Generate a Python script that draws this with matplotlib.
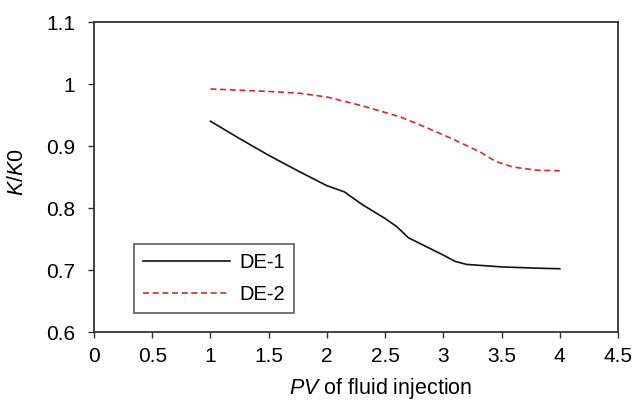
import matplotlib
matplotlib.use('Agg')
import matplotlib.pyplot as plt

plt.rcParams['font.family'] = ['Liberation Sans', 'DejaVu Sans']
plt.rcParams['mathtext.fontset'] = 'custom'
plt.rcParams['mathtext.rm'] = 'Liberation Sans'
plt.rcParams['mathtext.it'] = 'Liberation Sans:italic'

# DE-1 (solid black)
pv1 = [1.0, 1.25, 1.5, 1.75, 2.0, 2.15, 2.3, 2.5, 2.6, 2.7, 2.85, 3.0, 3.1, 3.2, 3.5, 3.8, 4.0]
k1 = [0.940, 0.912, 0.885, 0.860, 0.836, 0.826, 0.806, 0.783, 0.770, 0.752, 0.738, 0.724, 0.714, 0.709, 0.705, 0.703, 0.702]

# DE-2 (dashed red)
pv2 = [1.0, 1.25, 1.5, 1.77, 2.0, 2.3, 2.63, 2.85, 3.06, 3.32, 3.45, 3.6, 3.8, 4.0]
k2 = [0.992, 0.990, 0.988, 0.985, 0.979, 0.965, 0.947, 0.930, 0.913, 0.890, 0.875, 0.866, 0.861, 0.860]

fig = plt.figure(figsize=(6.36, 4.0), dpi=100)
ax = fig.add_axes([94/636, 1-332/400, (618-94)/636, (332-22)/400])

ax.plot(pv1, k1, color='#111111', lw=1.2, label='DE-1')
ax.plot(pv2, k2, color='#d7262e', lw=1.2, ls=(0, (3.6, 2.2)), label='DE-2')

ax.set_xlim(0, 4.5)
ax.set_ylim(0.6, 1.1)
ax.set_xticks([0, 0.5, 1, 1.5, 2, 2.5, 3, 3.5, 4, 4.5])
ax.set_xticklabels(['0', '0.5', '1', '1.5', '2', '2.5', '3', '3.5', '4', '4.5'])
ax.set_yticks([0.6, 0.7, 0.8, 0.9, 1.0, 1.1])
ax.set_yticklabels(['0.6', '0.7', '0.8', '0.9', '1', '1.1'])
ax.tick_params(direction='out', length=4.5, width=1, labelsize=15, color='#333333')
ax.tick_params(axis='y', pad=9)
ax.tick_params(axis='x', pad=6)
for s in ax.spines.values():
    s.set_color('#333333')
    s.set_linewidth(1.3)

ax.set_xlabel(r'$PV$ of fluid injection', fontsize=15.5)
ax.xaxis.set_label_coords(0.548, -0.142)
ax.set_ylabel(r'$K/K0$', fontsize=15.5)
ax.yaxis.set_label_coords(-0.126, 0.516)

leg = ax.legend(loc='lower left', bbox_to_anchor=(40/524, 19/310), borderaxespad=0,
                fontsize=14.5, frameon=True, fancybox=False, edgecolor='#333333',
                handlelength=4.3, handletextpad=0.5, borderpad=0.45, labelspacing=0.62)
leg.get_frame().set_linewidth(1.2)

fig.savefig('out.png', dpi=100)
